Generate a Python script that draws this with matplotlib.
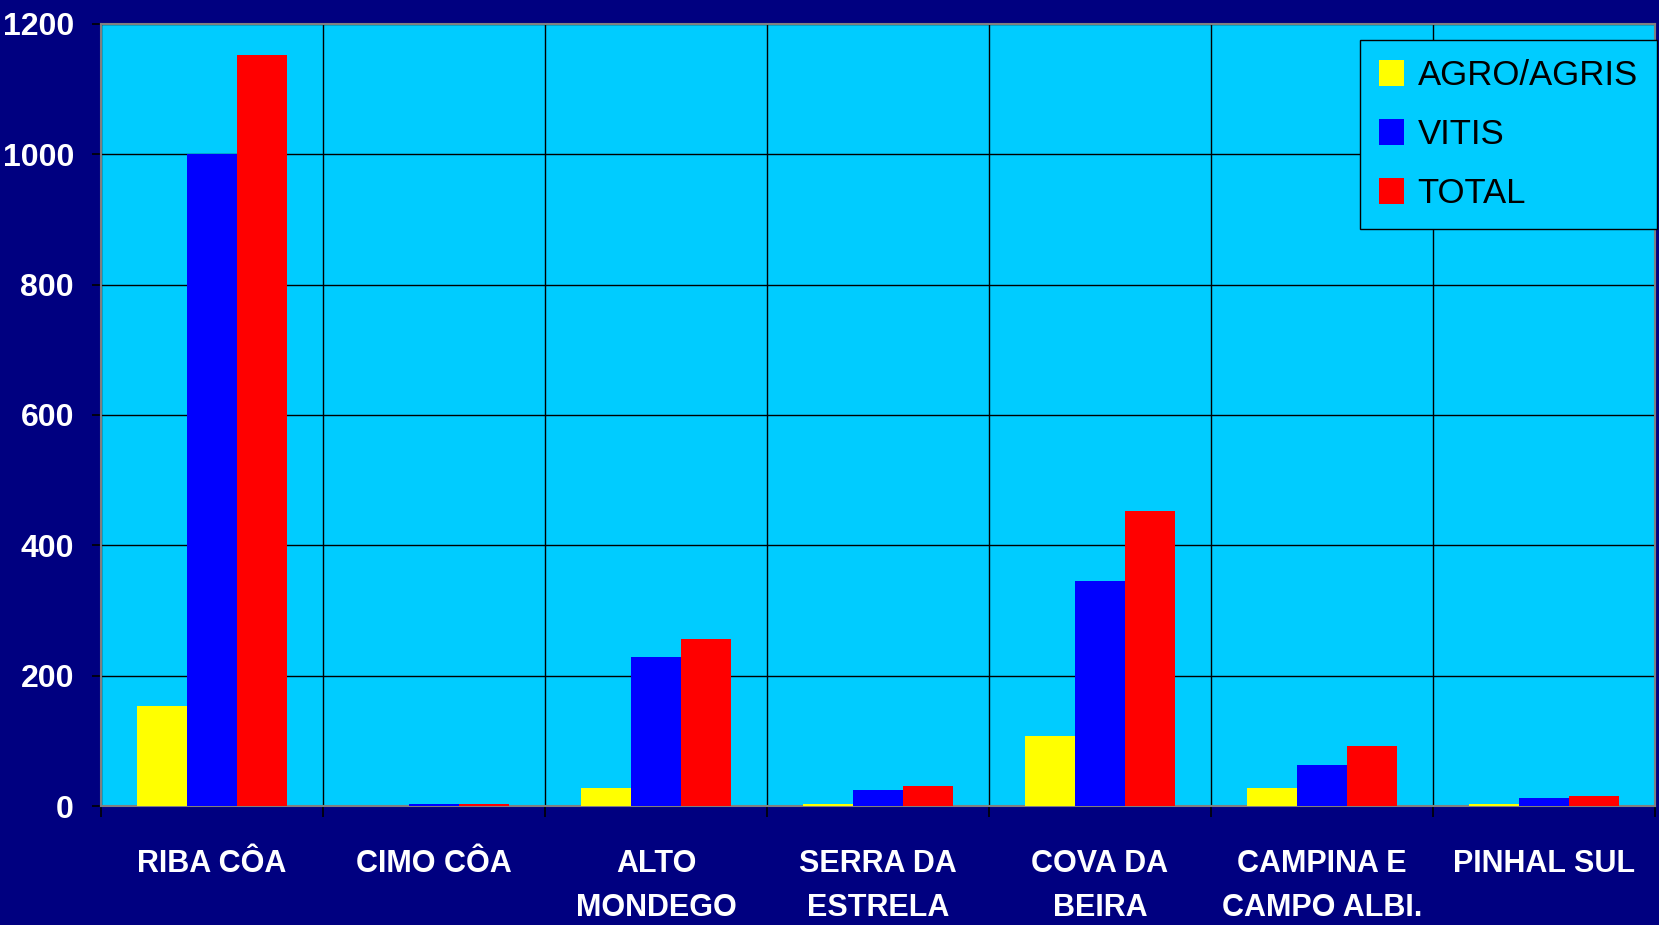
import numpy as np
import matplotlib
matplotlib.use("Agg")
import matplotlib.pyplot as plt

plt.rcParams['font.family'] = ['Liberation Sans', 'DejaVu Sans']

categories = ["RIBA CÔA", "CIMO CÔA", "ALTO\nMONDEGO", "SERRA DA\nESTRELA",
              "COVA DA\nBEIRA", "CAMPINA E\nCAMPO ALBI.", "PINHAL SUL"]
agro = [154, 0, 28, 3, 107, 28, 3]
vitis = [1000, 3, 228, 24, 345, 63, 13]
total = [1153, 3, 256, 31, 452, 92, 16]

series = [("AGRO/AGRIS", agro, "#FFFF00"),
          ("VITIS", vitis, "#0000FF"),
          ("TOTAL", total, "#FF0000")]

navy = "#000080"
face = "#00CCFF"

fig = plt.figure(figsize=(16.59, 9.25), dpi=100, facecolor=navy)
ax = fig.add_axes([101/1659, 1 - 806/925, 1554/1659, 782/925])
ax.set_facecolor(face)

x = np.arange(len(categories))
w = 0.225
for i, (name, vals, col) in enumerate(series):
    ax.bar(x + (i - 1) * w, vals, width=w, color=col, label=name, zorder=3)

ax.set_xlim(-0.5, len(categories) - 0.5)
ax.set_ylim(0, 1200)
ax.set_yticks(np.arange(0, 1201, 200))

# boundaries as major ticks (grid), labels at category centres
ax.set_xticks(np.arange(-0.5, len(categories), 1.0))
ax.set_xticklabels([])
ax.set_xticks(x, minor=True)
ax.set_xticklabels(categories, minor=True, color="white", fontsize=22,
                   fontweight="bold", linespacing=1.6, va="top")
ax.tick_params(axis="x", which="major", length=8, width=1.2, color="black",
               direction="out")
ax.tick_params(axis="x", which="minor", length=0, pad=31)
ax.tick_params(axis="y", length=6.5, width=1.2, color="black", pad=13,
               labelsize=23, labelcolor="white")
for lab in ax.get_yticklabels():
    lab.set_fontweight("bold")

ax.grid(True, which="major", color="black", linewidth=1, zorder=0)
ax.set_axisbelow(True)
for s in ax.spines.values():
    s.set_color("#808080")
    s.set_linewidth(1.5)

leg = ax.legend(loc="upper right", bbox_to_anchor=(1657/1659, 1 - 40/925),
                bbox_transform=fig.transFigure, borderaxespad=0,
                fontsize=25, frameon=True, fancybox=False, facecolor=face,
                edgecolor="black", framealpha=1, handlelength=0.7,
                handleheight=0.8, handletextpad=0.4, labelspacing=0.75,
                borderpad=0.55)
leg.get_frame().set_linewidth(1)

fig.savefig("out.png", dpi=100, facecolor=navy)
